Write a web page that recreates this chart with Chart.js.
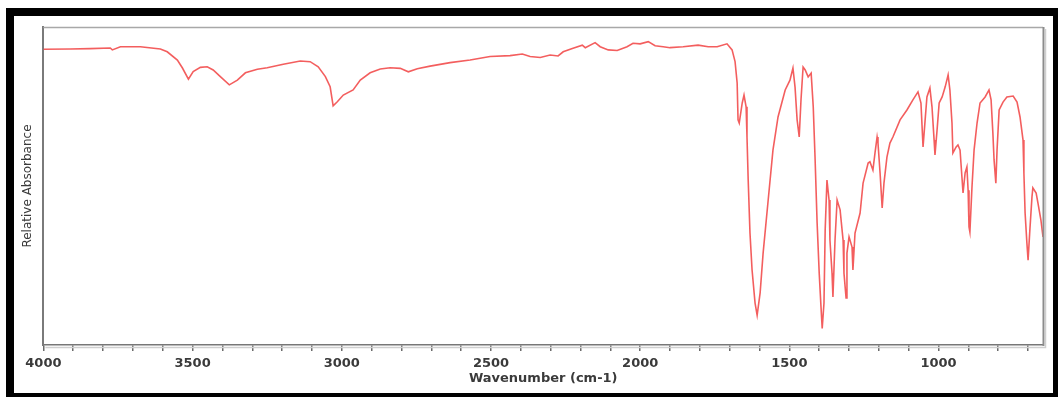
<!DOCTYPE html>
<html>
<head>
<meta charset="utf-8">
<title>IR spectrum</title>
<script src="https://cdn.jsdelivr.net/npm/chart.js@4"></script>
<style>
  html, body { margin: 0; padding: 0; overflow: hidden; background: #ffffff; }
  #wrap { position: relative; width: 1058px; height: 397px; }
  #spectrum { position: absolute; left: 0; top: 0; }
  #frame {
    position: absolute; left: 6px; top: 8px;
    width: 1055px; height: 393px; box-sizing: border-box;
    border: 8px solid #000; pointer-events: none;
  }
</style>
</head>
<body>
<div id="wrap">
  <canvas id="spectrum" width="1058" height="397"></canvas>
  <div id="frame"></div>
</div>
<script>
// Wavenumber positions (cm-1) of the sampled spectrum
const wavenumber = [
  4000,3910,3843,3776,3769,3742,3675,3608,3585,3551,
  3534,3514,3498,3474,3451,3431,3407,3377,3350,3323,
  3283,3250,3196,3139,3106,3079,3055,3039,3029,3015,
  2995,2962,2938,2905,2871,2838,2804,2777,2747,2704,
  2637,2570,2503,2436,2395,2369,2335,2302,2275,2258,
  2225,2194,2184,2151,2134,2107,2077,2044,2024,2000,
  1973,1950,1923,1900,1856,1806,1772,1742,1709,1692,
  1682,1675,1672,1668,1658,1652,1645,1642,1638,1632,
  1625,1615,1608,1598,1588,1571,1555,1538,1514,1498,
  1488,1481,1474,1467,1461,1454,1447,1437,1427,1420,
  1414,1407,1400,1394,1390,1384,1380,1374,1367,1364,
  1357,1354,1347,1340,1330,1320,1317,1310,1307,1300,
  1290,1287,1280,1263,1253,1236,1230,1220,1213,1206,
  1203,1196,1189,1183,1173,1163,1153,1129,1106,1086,
  1069,1059,1052,1045,1039,1029,1022,1015,1012,1005,
  998,988,978,968,962,955,952,941,935,928,
  921,918,911,905,901,898,895,888,881,871,
  861,844,831,824,818,814,808,804,797,784,
  771,750,737,727,717,714,710,704,700,694,
  687,684,673,667,657,650
];

// Relative absorbance signal (percent of full scale)
const relAbsorbance = [
  93.0,93.1,93.2,93.4,92.8,93.8,93.8,93.1,92.2,89.6,
  87.1,83.6,86.0,87.3,87.5,86.5,84.4,81.8,83.3,85.6,
  86.7,87.2,88.3,89.3,89.1,87.5,84.4,81.2,75.2,76.5,
  78.6,80.2,83.3,85.6,86.8,87.2,87.0,85.9,86.9,87.7,
  88.8,89.6,90.7,91.0,91.5,90.7,90.4,91.2,90.9,92.2,
  93.3,94.3,93.5,95.1,93.8,92.8,92.6,93.8,94.9,94.7,
  95.4,94.1,93.8,93.5,93.8,94.3,93.8,93.8,94.7,92.8,
  89.1,82.4,70.8,69.8,76.1,78.6,74.9,65.4,51.9,35.2,
  23.6,13.2,9.4,16.4,28.9,45.6,61.3,71.7,80.2,83.3,
  87.1,81.1,70.8,65.4,77.1,87.4,86.5,84.3,85.5,74.9,
  59.1,38.4,22.6,12.0,5.2,13.2,36.2,51.9,45.6,33.0,
  22.6,15.1,33.0,45.6,42.5,33.0,22.6,14.8,28.9,34.0,
  30.8,23.6,35.2,41.5,50.9,57.2,57.6,55.0,60.4,65.4,
  63.5,54.1,43.1,50.9,59.1,63.5,65.4,70.8,73.9,77.1,
  79.6,76.1,62.3,70.8,78.0,80.8,74.9,64.5,59.8,67.6,
  76.1,78.0,81.1,84.9,80.2,69.8,60.4,62.3,62.9,61.3,
  51.9,47.8,54.1,56.0,48.7,37.1,35.5,49.7,61.3,69.8,
  76.1,78.0,80.2,77.1,66.7,58.2,50.9,61.3,73.9,76.4,
  78.0,78.3,76.4,71.7,64.5,54.1,41.5,32.1,26.7,36.2,
  46.5,49.4,47.8,44.7,39.3,34.0
];

// Labelled wavenumber ticks; unlabelled minor ticks fall every 100 cm-1
const labelledTicks = [4000, 3500, 3000, 2500, 2000, 1500, 1000];
const tickStep = 100;
const axisRange = [650, 4000];

const points = wavenumber.map((w, i) => ({ x: w, y: relAbsorbance[i] }));

// Top and right edges of the plot box
const plotBox = {
  id: 'plotBox',
  afterDraw(chart) {
    const { ctx, chartArea: a } = chart;
    ctx.save();
    ctx.strokeStyle = '#a8a8a8';
    ctx.lineWidth = 1.5;
    ctx.beginPath();
    ctx.moveTo(a.left, a.top + 0.5);
    ctx.lineTo(a.right, a.top + 0.5);
    ctx.stroke();
    ctx.strokeStyle = '#8c8c8c';
    ctx.lineWidth = 2;
    ctx.beginPath();
    ctx.moveTo(a.right + 0.5, a.top);
    ctx.lineTo(a.right + 0.5, a.bottom + 1);
    ctx.stroke();
    ctx.strokeStyle = '#cfcfcf';
    ctx.lineWidth = 1.5;
    ctx.beginPath();
    ctx.moveTo(a.right + 2.5, a.top + 2);
    ctx.lineTo(a.right + 2.5, a.bottom + 2.5);
    ctx.lineTo(a.left + 2, a.bottom + 2.5);
    ctx.stroke();
    ctx.restore();
  }
};

Chart.defaults.font.family = "'DejaVu Sans', 'Liberation Sans', sans-serif";

new Chart(document.getElementById('spectrum'), {
  type: 'line',
  data: {
    datasets: [{
      data: points,
      borderColor: 'rgba(240, 58, 58, 0.82)',
      borderWidth: 1.6,
      pointRadius: 0,
      tension: 0,
      fill: false
    }]
  },
  options: {
    responsive: false,
    animation: false,
    devicePixelRatio: 1,
    layout: { padding: { left: 17, right: 15, top: 27, bottom: 4 } },
    plugins: { legend: { display: false }, tooltip: { enabled: false } },
    scales: {
      x: {
        type: 'linear',
        reverse: true,
        min: axisRange[0],
        max: axisRange[1],
        afterFit: (axis) => { axis.height = 48; },
        grid: {
          display: true,
          drawOnChartArea: false,
          drawTicks: true,
          tickLength: 6,
          color: '#6a6a6a',
          lineWidth: 1.5
        },
        border: { display: true, color: '#777777', width: 1.5 },
        ticks: {
          stepSize: tickStep,
          includeBounds: false,
          autoSkip: false,
          maxRotation: 0,
          padding: 5,
          color: '#3a3a3a',
          font: { size: 13, weight: 'bold' },
          callback: (v) => labelledTicks.includes(v) ? String(v) : ''
        },
        title: {
          display: true,
          text: 'Wavenumber (cm-1)',
          color: '#3a3a3a',
          font: { size: 13, weight: 'bold' },
          padding: { top: 0, bottom: 7 }
        }
      },
      y: {
        min: 0,
        max: 100,
        grid: { display: false, drawTicks: false },
        border: { display: true, color: '#7a7a7a', width: 2 },
        ticks: { display: false },
        title: {
          display: true,
          text: 'Relative Absorbance',
          color: '#3a3a3a',
          font: { size: 12 },
          padding: { top: 4, bottom: 8 }
        }
      }
    }
  },
  plugins: [plotBox]
});
</script>
</body>
</html>
